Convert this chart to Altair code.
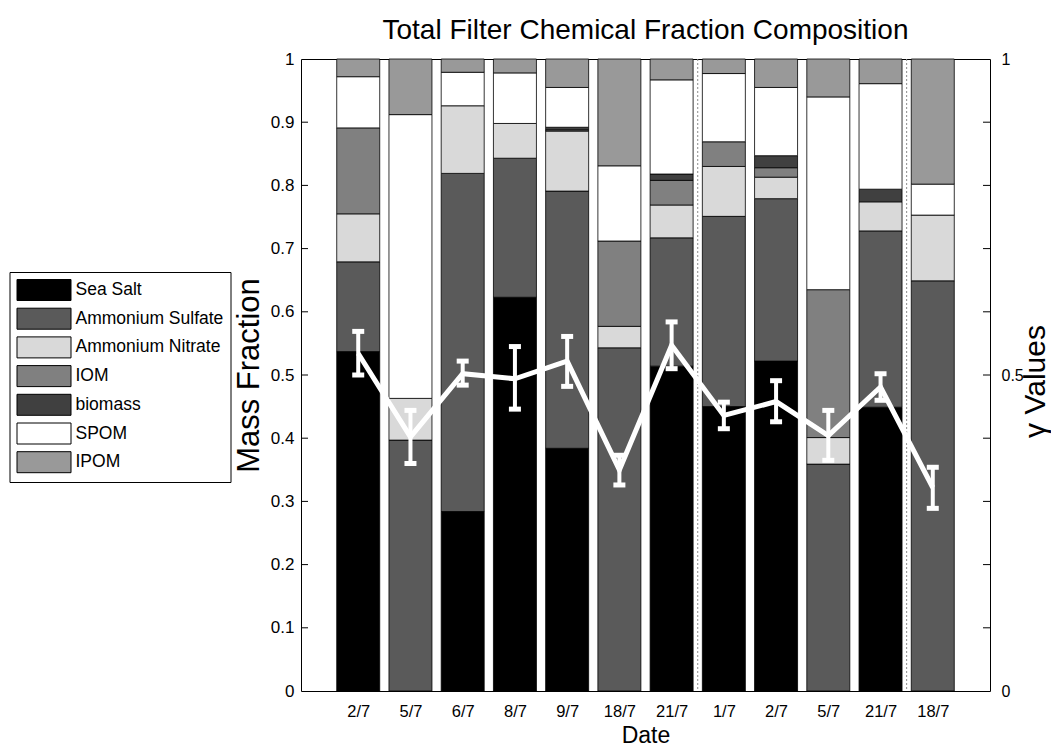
import json
import altair as alt
import pandas as pd

# ---------------- data ----------------
dates = ["2/7", "5/7", "6/7", "8/7", "9/7", "18/7", "21/7", "1/7", "2/7", "5/7", "21/7", "18/7"]
species = ["Sea Salt", "Ammonium Sulfate", "Ammonium Nitrate", "IOM", "biomass", "SPOM", "IPOM"]
colors = ["#000000", "#5a5a5a", "#d9d9d9", "#808080", "#404040", "#ffffff", "#999999"]

sea_salt         = [0.537, 0.000, 0.284, 0.623, 0.384, 0.000, 0.514, 0.450, 0.522, 0.000, 0.449, 0.000]
ammonium_sulfate = [0.142, 0.397, 0.535, 0.220, 0.407, 0.543, 0.203, 0.301, 0.257, 0.359, 0.279, 0.649]
ammonium_nitrate = [0.076, 0.066, 0.107, 0.055, 0.095, 0.034, 0.052, 0.079, 0.034, 0.042, 0.046, 0.104]
iom              = [0.136, 0.000, 0.000, 0.000, 0.002, 0.135, 0.039, 0.039, 0.015, 0.234, 0.000, 0.000]
biomass          = [0.000, 0.000, 0.000, 0.000, 0.004, 0.000, 0.010, 0.000, 0.019, 0.000, 0.020, 0.000]
spom             = [0.081, 0.449, 0.053, 0.080, 0.063, 0.119, 0.149, 0.108, 0.108, 0.305, 0.167, 0.049]
ipom             = [0.028, 0.088, 0.021, 0.022, 0.045, 0.169, 0.033, 0.023, 0.045, 0.060, 0.039, 0.198]

gamma    = [0.534, 0.402, 0.502, 0.494, 0.522, 0.350, 0.547, 0.436, 0.458, 0.404, 0.481, 0.322]
gamma_lo = [0.500, 0.360, 0.484, 0.446, 0.482, 0.326, 0.510, 0.415, 0.426, 0.365, 0.460, 0.289]
gamma_hi = [0.569, 0.444, 0.522, 0.545, 0.561, 0.373, 0.584, 0.457, 0.491, 0.444, 0.502, 0.354]

y_tick_values = [0, 0.1, 0.2, 0.3, 0.4, 0.5, 0.6, 0.7, 0.8, 0.9, 1]
inner_ticks = [0.1, 0.2, 0.3, 0.4, 0.5, 0.6, 0.7, 0.8, 0.9]
right_labels = [0, 0.5, 1]
separators = [7.5, 11.5]

# ---------------- tables ----------------
series = [sea_salt, ammonium_sulfate, ammonium_nitrate, iom, biomass, spom, ipom]
rows = []
for i in range(len(dates)):
    for j, name in enumerate(species):
        v = series[j][i]
        if v > 0:
            rows.append({"pos": i + 1, "species": name, "value": v, "order": j})
bars_df = pd.DataFrame(rows)

gamma_df = pd.DataFrame({"pos": list(range(1, len(dates) + 1)), "g": gamma,
                         "lo": gamma_lo, "hi": gamma_hi})
ticks_df = pd.DataFrame({"v": inner_ticks})
sep_df = pd.DataFrame({"s": separators})

SANS = "'Liberation Sans', Arial, sans-serif"

W, H = 689, 632

xscale = alt.Scale(domain=[0, 13], nice=False, zero=False)
yscale = alt.Scale(domain=[0, 1], nice=False, zero=True)

label_expr = json.dumps(dates) + "[datum.value - 1]"

x_axis = alt.Axis(values=list(range(1, 13)), labelExpr=label_expr, title="Date",
                  ticks=False, domain=False, grid=False, labelFont=SANS, labelFontSize=16.5,
                  labelPadding=12, titleFont=SANS, titleFontSize=23, titleFontWeight="normal",
                  titlePadding=5, labelColor="black", titleColor="black")

y_axis = alt.Axis(values=y_tick_values, format=".1~f", title="Mass Fraction",
                  ticks=False, domain=False, grid=False, labelFont=SANS, labelFontSize=17,
                  labelPadding=7, titleFont=SANS, titleFontSize=31, titleFontWeight="normal",
                  titleAngle=270, titleBaseline="alphabetic", titleAlign="center",
                  titleX=-43, titleY=H / 2,
                  labelColor="black", titleColor="black")

r_axis = alt.Axis(orient="right", values=right_labels, format=".1~f", title="γ Values",
                  ticks=False, domain=False, grid=False, labelFont=SANS, labelFontSize=16,
                  labelPadding=11, titleFont=SANS, titleFontSize=30, titleFontWeight="normal",
                  titleAngle=270, titleBaseline="alphabetic", titleAlign="center",
                  titleX=54, titleY=H / 2 + 6,
                  labelColor="black", titleColor="black")

bars = alt.Chart(bars_df).mark_bar(width=43, stroke="black", strokeWidth=0.8).encode(
    x=alt.X("pos:Q", scale=xscale, axis=x_axis),
    y=alt.Y("value:Q", stack="zero", scale=yscale, axis=y_axis),
    color=alt.Color("species:N",
                    scale=alt.Scale(domain=species, range=colors),
                    legend=alt.Legend(orient="none", legendX=-291.5, legendY=213,
                                      title=None, padding=7, strokeColor="black",
                                      fillColor="white", symbolType="M-1,-1H4.143V1H-1Z",
                                      symbolSize=441, symbolStrokeColor="black",
                                      symbolStrokeWidth=1, symbolOpacity=1,
                                      labelFont=SANS, labelFontSize=17.5, labelColor="black",
                                      labelOffset=37, rowPadding=2.7, labelLimit=300)),
    order=alt.Order("order:Q", sort="ascending"),
)

left_ticks = alt.Chart(ticks_df).mark_rule(color="black", strokeWidth=1).encode(
    y=alt.Y("v:Q", scale=yscale, axis=y_axis),
    x=alt.value(0), x2=alt.value(7),
)
right_ticks = alt.Chart(ticks_df).mark_rule(color="black", strokeWidth=1).encode(
    y=alt.Y("v:Q", scale=yscale, axis=y_axis),
    x=alt.value(W - 7), x2=alt.value(W),
)
seps = alt.Chart(sep_df).mark_rule(color="#8c8c8c", strokeWidth=1, strokeDash=[2, 2]).encode(
    x=alt.X("s:Q", scale=xscale, axis=x_axis),
)

left = alt.layer(bars, seps, left_ticks, right_ticks)

gscale = alt.Scale(domain=[0, 1], nice=False, zero=True)

g_line = alt.Chart(gamma_df).mark_line(color="white", strokeWidth=5).encode(
    x=alt.X("pos:Q", scale=xscale, axis=x_axis),
    y=alt.Y("g:Q", scale=gscale, axis=r_axis),
)
g_stem = alt.Chart(gamma_df).mark_rule(color="white", strokeWidth=4).encode(
    x=alt.X("pos:Q", scale=xscale, axis=x_axis),
    y=alt.Y("lo:Q", scale=gscale, axis=r_axis),
    y2="hi:Q",
)
g_cap_lo = alt.Chart(gamma_df).mark_rule(color="white", strokeWidth=5, xOffset=-6, x2Offset=6).encode(
    x=alt.X("pos:Q", scale=xscale, axis=x_axis), x2="pos:Q",
    y=alt.Y("lo:Q", scale=gscale, axis=r_axis),
)
g_cap_hi = alt.Chart(gamma_df).mark_rule(color="white", strokeWidth=5, xOffset=-6, x2Offset=6).encode(
    x=alt.X("pos:Q", scale=xscale, axis=x_axis), x2="pos:Q",
    y=alt.Y("hi:Q", scale=gscale, axis=r_axis),
)

right = alt.layer(g_stem, g_line, g_cap_lo, g_cap_hi)

chart = alt.layer(left, right).resolve_scale(y="independent").properties(
    width=W, height=H,
    title=alt.Title("Total Filter Chemical Fraction Composition", font=SANS, fontSize=28,
                    fontWeight="normal", color="black", offset=5, anchor="middle"),
    autosize=alt.AutoSizeParams(type="none"),
    padding={"left": 293, "top": 51, "right": 61, "bottom": 57},
    background="white",
).configure_view(stroke="black", strokeWidth=1)

chart.save("out.html", embed_options={"renderer": "svg", "actions": False})
